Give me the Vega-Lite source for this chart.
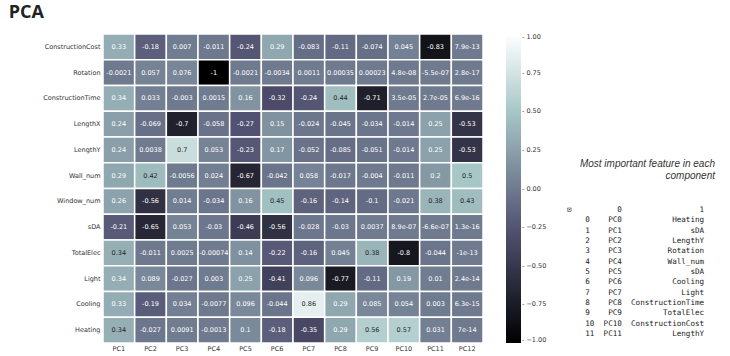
{
  "$schema": "https://vega.github.io/schema/vega-lite/v6.json",
  "background": "white",
  "padding": {"left": 8, "top": 4, "right": 5, "bottom": 4},
  "title": {"text": "PCA", "anchor": "start", "frame": "bounds", "font": "Open Sans", "fontSize": 18, "fontWeight": "bold", "color": "#222222", "dx": -34, "offset": 11},
  "config": {"view": {"stroke": null}, "font": "DejaVu Sans", "axis": {"labelFont": "DejaVu Sans"}, "legend": {"labelFont": "DejaVu Sans"}},
  "resolve": {"scale": {"color": "independent"}, "legend": {"color": "independent"}},
  "spacing": 10,
  "hconcat": [
    {
      "width": 380,
      "height": 309,
      "data": {"values": [
        {"f":"ConstructionCost","c":"PC1","v":0.33,"t":"0.33"},{"f":"ConstructionCost","c":"PC2","v":-0.18,"t":"-0.18"},{"f":"ConstructionCost","c":"PC3","v":0.007,"t":"0.007"},{"f":"ConstructionCost","c":"PC4","v":-0.011,"t":"-0.011"},{"f":"ConstructionCost","c":"PC5","v":-0.24,"t":"-0.24"},{"f":"ConstructionCost","c":"PC6","v":0.29,"t":"0.29"},{"f":"ConstructionCost","c":"PC7","v":-0.083,"t":"-0.083"},{"f":"ConstructionCost","c":"PC8","v":-0.11,"t":"-0.11"},{"f":"ConstructionCost","c":"PC9","v":-0.074,"t":"-0.074"},{"f":"ConstructionCost","c":"PC10","v":0.045,"t":"0.045"},{"f":"ConstructionCost","c":"PC11","v":-0.83,"t":"-0.83"},{"f":"ConstructionCost","c":"PC12","v":7.9e-13,"t":"7.9e-13"},
        {"f":"Rotation","c":"PC1","v":-0.0021,"t":"-0.0021"},{"f":"Rotation","c":"PC2","v":0.057,"t":"0.057"},{"f":"Rotation","c":"PC3","v":0.076,"t":"0.076"},{"f":"Rotation","c":"PC4","v":-1,"t":"-1"},{"f":"Rotation","c":"PC5","v":-0.0021,"t":"-0.0021"},{"f":"Rotation","c":"PC6","v":-0.0034,"t":"-0.0034"},{"f":"Rotation","c":"PC7","v":0.0011,"t":"0.0011"},{"f":"Rotation","c":"PC8","v":0.00035,"t":"0.00035"},{"f":"Rotation","c":"PC9","v":0.00023,"t":"0.00023"},{"f":"Rotation","c":"PC10","v":4.8e-8,"t":"4.8e-08"},{"f":"Rotation","c":"PC11","v":-5.5e-7,"t":"-5.5e-07"},{"f":"Rotation","c":"PC12","v":2.8e-17,"t":"2.8e-17"},
        {"f":"ConstructionTime","c":"PC1","v":0.338,"t":"0.34"},{"f":"ConstructionTime","c":"PC2","v":0.033,"t":"0.033"},{"f":"ConstructionTime","c":"PC3","v":-0.003,"t":"-0.003"},{"f":"ConstructionTime","c":"PC4","v":0.0015,"t":"0.0015"},{"f":"ConstructionTime","c":"PC5","v":0.16,"t":"0.16"},{"f":"ConstructionTime","c":"PC6","v":-0.32,"t":"-0.32"},{"f":"ConstructionTime","c":"PC7","v":-0.24,"t":"-0.24"},{"f":"ConstructionTime","c":"PC8","v":0.44,"t":"0.44"},{"f":"ConstructionTime","c":"PC9","v":-0.71,"t":"-0.71"},{"f":"ConstructionTime","c":"PC10","v":3.5e-5,"t":"3.5e-05"},{"f":"ConstructionTime","c":"PC11","v":2.7e-5,"t":"2.7e-05"},{"f":"ConstructionTime","c":"PC12","v":6.9e-16,"t":"6.9e-16"},
        {"f":"LengthX","c":"PC1","v":0.24,"t":"0.24"},{"f":"LengthX","c":"PC2","v":-0.069,"t":"-0.069"},{"f":"LengthX","c":"PC3","v":-0.7,"t":"-0.7"},{"f":"LengthX","c":"PC4","v":-0.058,"t":"-0.058"},{"f":"LengthX","c":"PC5","v":-0.27,"t":"-0.27"},{"f":"LengthX","c":"PC6","v":0.15,"t":"0.15"},{"f":"LengthX","c":"PC7","v":-0.024,"t":"-0.024"},{"f":"LengthX","c":"PC8","v":-0.045,"t":"-0.045"},{"f":"LengthX","c":"PC9","v":-0.034,"t":"-0.034"},{"f":"LengthX","c":"PC10","v":-0.014,"t":"-0.014"},{"f":"LengthX","c":"PC11","v":0.25,"t":"0.25"},{"f":"LengthX","c":"PC12","v":-0.53,"t":"-0.53"},
        {"f":"LengthY","c":"PC1","v":0.24,"t":"0.24"},{"f":"LengthY","c":"PC2","v":0.0038,"t":"0.0038"},{"f":"LengthY","c":"PC3","v":0.7,"t":"0.7"},{"f":"LengthY","c":"PC4","v":0.053,"t":"0.053"},{"f":"LengthY","c":"PC5","v":-0.23,"t":"-0.23"},{"f":"LengthY","c":"PC6","v":0.17,"t":"0.17"},{"f":"LengthY","c":"PC7","v":-0.052,"t":"-0.052"},{"f":"LengthY","c":"PC8","v":-0.085,"t":"-0.085"},{"f":"LengthY","c":"PC9","v":-0.051,"t":"-0.051"},{"f":"LengthY","c":"PC10","v":-0.014,"t":"-0.014"},{"f":"LengthY","c":"PC11","v":0.25,"t":"0.25"},{"f":"LengthY","c":"PC12","v":-0.53,"t":"-0.53"},
        {"f":"Wall_num","c":"PC1","v":0.29,"t":"0.29"},{"f":"Wall_num","c":"PC2","v":0.42,"t":"0.42"},{"f":"Wall_num","c":"PC3","v":-0.0056,"t":"-0.0056"},{"f":"Wall_num","c":"PC4","v":0.024,"t":"0.024"},{"f":"Wall_num","c":"PC5","v":-0.67,"t":"-0.67"},{"f":"Wall_num","c":"PC6","v":-0.042,"t":"-0.042"},{"f":"Wall_num","c":"PC7","v":0.058,"t":"0.058"},{"f":"Wall_num","c":"PC8","v":-0.017,"t":"-0.017"},{"f":"Wall_num","c":"PC9","v":-0.004,"t":"-0.004"},{"f":"Wall_num","c":"PC10","v":-0.011,"t":"-0.011"},{"f":"Wall_num","c":"PC11","v":0.2,"t":"0.2"},{"f":"Wall_num","c":"PC12","v":0.5,"t":"0.5"},
        {"f":"Window_num","c":"PC1","v":0.26,"t":"0.26"},{"f":"Window_num","c":"PC2","v":-0.56,"t":"-0.56"},{"f":"Window_num","c":"PC3","v":0.014,"t":"0.014"},{"f":"Window_num","c":"PC4","v":-0.034,"t":"-0.034"},{"f":"Window_num","c":"PC5","v":0.16,"t":"0.16"},{"f":"Window_num","c":"PC6","v":0.45,"t":"0.45"},{"f":"Window_num","c":"PC7","v":-0.16,"t":"-0.16"},{"f":"Window_num","c":"PC8","v":-0.14,"t":"-0.14"},{"f":"Window_num","c":"PC9","v":-0.1,"t":"-0.1"},{"f":"Window_num","c":"PC10","v":-0.021,"t":"-0.021"},{"f":"Window_num","c":"PC11","v":0.38,"t":"0.38"},{"f":"Window_num","c":"PC12","v":0.43,"t":"0.43"},
        {"f":"sDA","c":"PC1","v":-0.21,"t":"-0.21"},{"f":"sDA","c":"PC2","v":-0.65,"t":"-0.65"},{"f":"sDA","c":"PC3","v":0.053,"t":"0.053"},{"f":"sDA","c":"PC4","v":-0.03,"t":"-0.03"},{"f":"sDA","c":"PC5","v":-0.46,"t":"-0.46"},{"f":"sDA","c":"PC6","v":-0.56,"t":"-0.56"},{"f":"sDA","c":"PC7","v":-0.028,"t":"-0.028"},{"f":"sDA","c":"PC8","v":-0.03,"t":"-0.03"},{"f":"sDA","c":"PC9","v":0.0037,"t":"0.0037"},{"f":"sDA","c":"PC10","v":8.9e-7,"t":"8.9e-07"},{"f":"sDA","c":"PC11","v":-6.6e-7,"t":"-6.6e-07"},{"f":"sDA","c":"PC12","v":1.3e-16,"t":"1.3e-16"},
        {"f":"TotalElec","c":"PC1","v":0.344,"t":"0.34"},{"f":"TotalElec","c":"PC2","v":-0.011,"t":"-0.011"},{"f":"TotalElec","c":"PC3","v":0.0025,"t":"0.0025"},{"f":"TotalElec","c":"PC4","v":-0.00074,"t":"-0.00074"},{"f":"TotalElec","c":"PC5","v":0.14,"t":"0.14"},{"f":"TotalElec","c":"PC6","v":-0.22,"t":"-0.22"},{"f":"TotalElec","c":"PC7","v":-0.16,"t":"-0.16"},{"f":"TotalElec","c":"PC8","v":0.045,"t":"0.045"},{"f":"TotalElec","c":"PC9","v":0.38,"t":"0.38"},{"f":"TotalElec","c":"PC10","v":-0.8,"t":"-0.8"},{"f":"TotalElec","c":"PC11","v":-0.044,"t":"-0.044"},{"f":"TotalElec","c":"PC12","v":-1e-13,"t":"-1e-13"},
        {"f":"Light","c":"PC1","v":0.338,"t":"0.34"},{"f":"Light","c":"PC2","v":0.089,"t":"0.089"},{"f":"Light","c":"PC3","v":-0.027,"t":"-0.027"},{"f":"Light","c":"PC4","v":0.003,"t":"0.003"},{"f":"Light","c":"PC5","v":0.25,"t":"0.25"},{"f":"Light","c":"PC6","v":-0.41,"t":"-0.41"},{"f":"Light","c":"PC7","v":0.096,"t":"0.096"},{"f":"Light","c":"PC8","v":-0.77,"t":"-0.77"},{"f":"Light","c":"PC9","v":-0.11,"t":"-0.11"},{"f":"Light","c":"PC10","v":0.19,"t":"0.19"},{"f":"Light","c":"PC11","v":0.01,"t":"0.01"},{"f":"Light","c":"PC12","v":2.4e-14,"t":"2.4e-14"},
        {"f":"Cooling","c":"PC1","v":0.33,"t":"0.33"},{"f":"Cooling","c":"PC2","v":-0.19,"t":"-0.19"},{"f":"Cooling","c":"PC3","v":0.034,"t":"0.034"},{"f":"Cooling","c":"PC4","v":-0.0077,"t":"-0.0077"},{"f":"Cooling","c":"PC5","v":0.096,"t":"0.096"},{"f":"Cooling","c":"PC6","v":-0.044,"t":"-0.044"},{"f":"Cooling","c":"PC7","v":0.86,"t":"0.86"},{"f":"Cooling","c":"PC8","v":0.29,"t":"0.29"},{"f":"Cooling","c":"PC9","v":0.085,"t":"0.085"},{"f":"Cooling","c":"PC10","v":0.054,"t":"0.054"},{"f":"Cooling","c":"PC11","v":0.003,"t":"0.003"},{"f":"Cooling","c":"PC12","v":6.3e-15,"t":"6.3e-15"},
        {"f":"Heating","c":"PC1","v":0.344,"t":"0.34"},{"f":"Heating","c":"PC2","v":-0.027,"t":"-0.027"},{"f":"Heating","c":"PC3","v":0.0091,"t":"0.0091"},{"f":"Heating","c":"PC4","v":-0.0013,"t":"-0.0013"},{"f":"Heating","c":"PC5","v":0.1,"t":"0.1"},{"f":"Heating","c":"PC6","v":-0.18,"t":"-0.18"},{"f":"Heating","c":"PC7","v":-0.35,"t":"-0.35"},{"f":"Heating","c":"PC8","v":0.29,"t":"0.29"},{"f":"Heating","c":"PC9","v":0.56,"t":"0.56"},{"f":"Heating","c":"PC10","v":0.57,"t":"0.57"},{"f":"Heating","c":"PC11","v":0.031,"t":"0.031"},{"f":"Heating","c":"PC12","v":7e-14,"t":"7e-14"}
      ]},
      "encoding": {
        "x": {"field": "c", "type": "ordinal", "sort": ["PC1","PC2","PC3","PC4","PC5","PC6","PC7","PC8","PC9","PC10","PC11","PC12"], "scale": {"paddingInner": 0, "paddingOuter": 0},
              "axis": {"title": null, "labelAngle": 0, "ticks": false, "domain": false, "labelFontSize": 6.5, "labelColor": "#333333", "labelPadding": 2}},
        "y": {"field": "f", "type": "ordinal", "sort": ["ConstructionCost","Rotation","ConstructionTime","LengthX","LengthY","Wall_num","Window_num","sDA","TotalElec","Light","Cooling","Heating"], "scale": {"paddingInner": 0, "paddingOuter": 0},
              "axis": {"title": null, "ticks": false, "domain": false, "labelFontSize": 6.5, "labelColor": "#333333", "labelPadding": 3}}
      },
      "layer": [
        {
          "mark": {"type": "rect", "stroke": "white", "strokeWidth": 1.5},
          "encoding": {
            "color": {"field": "v", "type": "quantitative",
              "scale": {"domain": [-1, -0.2698, 0.4921, 1], "range": ["#000000", "#515171", "#a6c6c6", "#ffffff"], "interpolate": "rgb"},
              "legend": {"title": null, "orient": "right", "offset": 23, "direction": "vertical", "gradientLength": 309, "gradientThickness": 15, "gradientStrokeWidth": 0,
                "values": [1, 0.75, 0.5, 0.25, 0, -0.25, -0.5, -0.75, -1],
                "labelExpr": "'- ' + replace(format(datum.value, '.2f'), '-', '\u2212')",
                "labelFontSize": 6.5, "labelColor": "#333333", "labelOffset": 1, "labelBaseline": "middle", "labelAlign": "left", "labelOverlap": false}
            }
          }
        },
        {
          "mark": {"type": "text", "fontSize": 6.5, "font": "DejaVu Sans"},
          "encoding": {
            "text": {"field": "t"},
            "color": {"condition": {"test": "datum.v > 0.34", "value": "#262626"}, "value": "#ffffff"}
          }
        }
      ]
    },
    {
      "width": 160,
      "height": 309,
      "resolve": {"scale": {"y": "independent"}},
      "layer": [
        {
          "data": {"values": [{"part": "caption", "line": "1", "txt": "Most important feature in each"}, {"part": "caption", "line": "2", "txt": "component"}]},
          "mark": {"type": "text", "align": "right", "baseline": "middle", "font": "Liberation Sans", "fontStyle": "italic", "fontSize": 10, "color": "#333333"},
          "encoding": {
            "x": {"field": "part", "type": "nominal", "scale": {"type": "point", "domain": ["table", "caption"], "range": [10, 158], "padding": 0}, "axis": null},
            "y": {"field": "line", "type": "ordinal", "scale": {"type": "point", "domain": ["1", "2"], "range": [130, 142], "padding": 0}, "axis": null},
            "text": {"field": "txt"}
          }
        },
        {
          "data": {"values": [
            {"part": "table", "row": "hdr", "txt": "\u22a1\u00a0\u00a0\u00a0\u00a0\u00a0\u00a0\u00a0\u00a0\u00a0\u00a00\u00a0\u00a0\u00a0\u00a0\u00a0\u00a0\u00a0\u00a0\u00a0\u00a0\u00a0\u00a0\u00a0\u00a0\u00a0\u00a0\u00a01"},
            {"part": "table", "row": "0", "txt": "\u200b\u00a0\u00a0\u00a0\u00a00\u00a0\u00a0\u00a0\u00a0PC0\u00a0\u00a0\u00a0\u00a0\u00a0\u00a0\u00a0\u00a0\u00a0\u00a0\u00a0Heating"},
            {"part": "table", "row": "1", "txt": "\u200b\u00a0\u00a0\u00a0\u00a01\u00a0\u00a0\u00a0\u00a0PC1\u00a0\u00a0\u00a0\u00a0\u00a0\u00a0\u00a0\u00a0\u00a0\u00a0\u00a0\u00a0\u00a0\u00a0\u00a0sDA"},
            {"part": "table", "row": "2", "txt": "\u200b\u00a0\u00a0\u00a0\u00a02\u00a0\u00a0\u00a0\u00a0PC2\u00a0\u00a0\u00a0\u00a0\u00a0\u00a0\u00a0\u00a0\u00a0\u00a0\u00a0LengthY"},
            {"part": "table", "row": "3", "txt": "\u200b\u00a0\u00a0\u00a0\u00a03\u00a0\u00a0\u00a0\u00a0PC3\u00a0\u00a0\u00a0\u00a0\u00a0\u00a0\u00a0\u00a0\u00a0\u00a0Rotation"},
            {"part": "table", "row": "4", "txt": "\u200b\u00a0\u00a0\u00a0\u00a04\u00a0\u00a0\u00a0\u00a0PC4\u00a0\u00a0\u00a0\u00a0\u00a0\u00a0\u00a0\u00a0\u00a0\u00a0Wall_num"},
            {"part": "table", "row": "5", "txt": "\u200b\u00a0\u00a0\u00a0\u00a05\u00a0\u00a0\u00a0\u00a0PC5\u00a0\u00a0\u00a0\u00a0\u00a0\u00a0\u00a0\u00a0\u00a0\u00a0\u00a0\u00a0\u00a0\u00a0\u00a0sDA"},
            {"part": "table", "row": "6", "txt": "\u200b\u00a0\u00a0\u00a0\u00a06\u00a0\u00a0\u00a0\u00a0PC6\u00a0\u00a0\u00a0\u00a0\u00a0\u00a0\u00a0\u00a0\u00a0\u00a0\u00a0Cooling"},
            {"part": "table", "row": "7", "txt": "\u200b\u00a0\u00a0\u00a0\u00a07\u00a0\u00a0\u00a0\u00a0PC7\u00a0\u00a0\u00a0\u00a0\u00a0\u00a0\u00a0\u00a0\u00a0\u00a0\u00a0\u00a0\u00a0Light"},
            {"part": "table", "row": "8", "txt": "\u200b\u00a0\u00a0\u00a0\u00a08\u00a0\u00a0\u00a0\u00a0PC8\u00a0\u00a0ConstructionTime"},
            {"part": "table", "row": "9", "txt": "\u200b\u00a0\u00a0\u00a0\u00a09\u00a0\u00a0\u00a0\u00a0PC9\u00a0\u00a0\u00a0\u00a0\u00a0\u00a0\u00a0\u00a0\u00a0TotalElec"},
            {"part": "table", "row": "10", "txt": "\u200b\u00a0\u00a0\u00a0\u00a010\u00a0\u00a0PC10\u00a0\u00a0ConstructionCost"},
            {"part": "table", "row": "11", "txt": "\u200b\u00a0\u00a0\u00a0\u00a011\u00a0\u00a0PC11\u00a0\u00a0\u00a0\u00a0\u00a0\u00a0\u00a0\u00a0\u00a0\u00a0\u00a0LengthY"}
          ]},
          "mark": {"type": "text", "align": "left", "baseline": "middle", "font": "DejaVu Sans Mono", "fontSize": 7.6, "color": "#212121"},
          "encoding": {
            "x": {"field": "part", "type": "nominal", "scale": {"type": "point", "domain": ["table", "caption"], "range": [10, 158], "padding": 0}, "axis": null},
            "y": {"field": "row", "type": "ordinal", "scale": {"type": "point", "domain": ["hdr","0","1","2","3","4","5","6","7","8","9","10","11"], "range": [176, 300], "padding": 0}, "axis": null},
            "text": {"field": "txt"}
          }
        }
      ]
    }
  ]
}
